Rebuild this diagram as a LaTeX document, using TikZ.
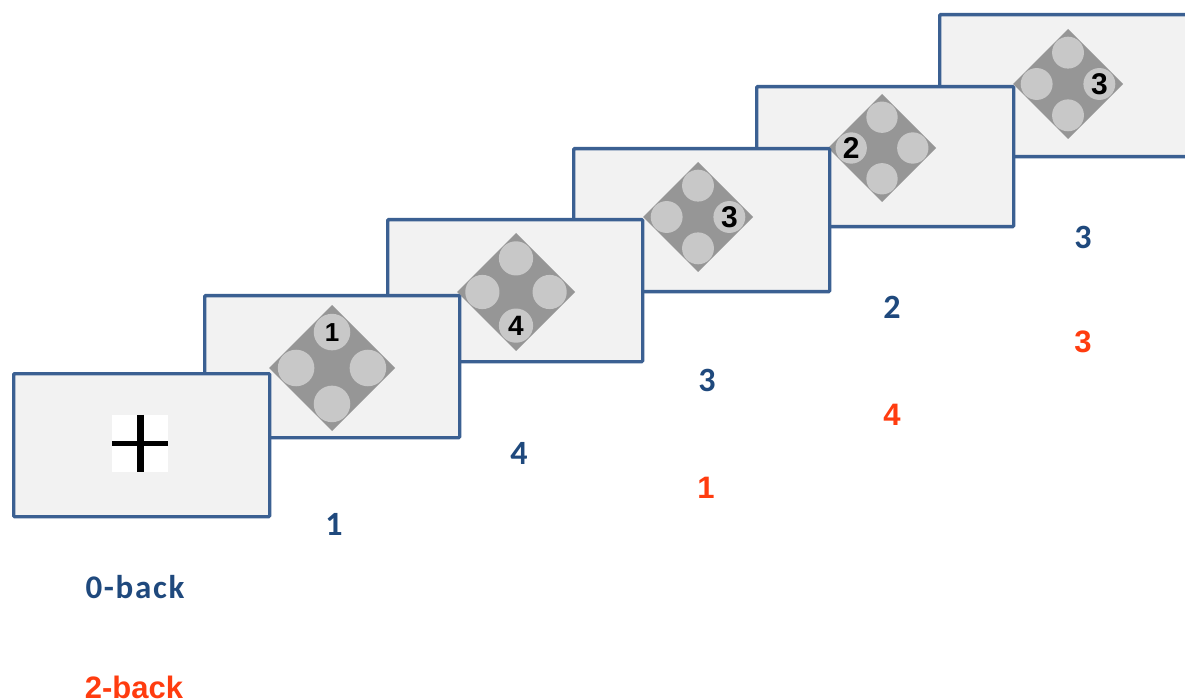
\documentclass[tikz,border=0pt]{standalone}
\usepackage{fontspec}
\newfontfamily\carlito{Carlito}
\newfontfamily\carlitosp[LetterSpace=5]{Carlito}
\newfontfamily\arialf{Liberation Sans}
\definecolor{boxblue}{HTML}{3B6092}
\definecolor{boxfill}{HTML}{F2F2F2}
\definecolor{darkgrey}{HTML}{969696}
\definecolor{lightgrey}{HTML}{C8C8C8}
\definecolor{labelblue}{HTML}{1F497D}
\definecolor{labelred}{HTML}{FF3C0F}
\tikzset{
  screen/.style={draw=boxblue, fill=boxfill, line width=3.3pt, rounded corners=1pt,
    anchor=north west, inner sep=0pt, minimum width=256pt, minimum height=142pt},
  diam/.style={fill=darkgrey, rotate=45, inner sep=0pt, draw=none},
  disc/.style={circle, fill=lightgrey, inner sep=0pt, draw=none},
  digit/.style={font=\arialf\bfseries\fontsize{#1}{#1}\selectfont, text=black, inner sep=0pt},
  bluelab/.style={font=\carlito\bfseries\fontsize{34}{36}\selectfont, text=labelblue, inner sep=0pt},
  redlab/.style={font=\arialf\bfseries\fontsize{31}{34}\selectfont, text=labelred, inner sep=0pt},
}
\newcommand\stimulus[4]{%
  \node[diam, minimum size={1.4142*#4}] (#1) at (#2,#3) {};
  \node[disc, minimum size={0.58*#4}] (#1t) at (#2,{#3-0.57*#4}) {};
  \node[disc, minimum size={0.58*#4}] (#1b) at (#2,{#3+0.57*#4}) {};
  \node[disc, minimum size={0.58*#4}] (#1l) at ({#2-0.57*#4},#3) {};
  \node[disc, minimum size={0.58*#4}] (#1r) at ({#2+0.57*#4},#3) {};
}
\begin{document}
\begin{tikzpicture}[x=1pt,y=-1pt]
\useasboundingbox (0,0) rectangle (1185,700);
\clip (0,0) rectangle (1185,700);
\fill[white] (0,0) rectangle (1185,700);
% screen 6
\node[screen, minimum width=262pt] (s6) at (938,13) {};
\stimulus{d6}{1068}{84}{55}
\node[digit=30] (n6) at (d6r) {3};
% screen 5
\node[screen, minimum width=257pt, minimum height=140pt] (s5) at (755,85) {};
\stimulus{d5}{882}{148}{54}
\node[digit=30] (n5) at (d5l) {2};
% screen 4
\node[screen, minimum height=143pt] (s4) at (572,147) {};
\stimulus{d4}{698}{217}{55}
\node[digit=30] (n4) at (d4r) {3};
% screen 3
\node[screen, minimum width=255pt] (s3) at (386,218) {};
\stimulus{d3}{516}{292}{59}
\node[digit=28] (n3) at (d3b) {4};
% screen 2
\node[screen, minimum width=255pt] (s2) at (203,294) {};
\stimulus{d2}{332}{368}{63}
\node[digit=26] (n2) at (d2t) {1};
% screen 1 (fixation)
\node[screen, minimum height=143pt] (s1) at (12,372) {};
\node[fill=white, inner sep=0pt, minimum width=56pt, minimum height=57pt] (fix) at (140,443.5) {};
\draw[line width=7pt, black] (fix.north) -- (fix.south);
\draw[line width=5pt, black] (fix.west) -- (fix.east);
% answers
\node[bluelab] (a1) at (334,524) {1};
\node[bluelab] (a2) at (519,453) {4};
\node[bluelab] (a3) at (707,380) {3};
\node[bluelab] (a4) at (892,307) {2};
\node[bluelab] (a5) at (1083,237) {3};
\node[redlab] (r3) at (706,488) {1};
\node[redlab] (r4) at (892,415) {4};
\node[redlab] (r5) at (1083,342) {3};
\node[bluelab, font=\carlitosp\bfseries\fontsize{33}{36}\selectfont] (zb) at (135,587) {0-back};
\node[redlab] (tb) at (134,687) {2-back};
\end{tikzpicture}
\end{document}
